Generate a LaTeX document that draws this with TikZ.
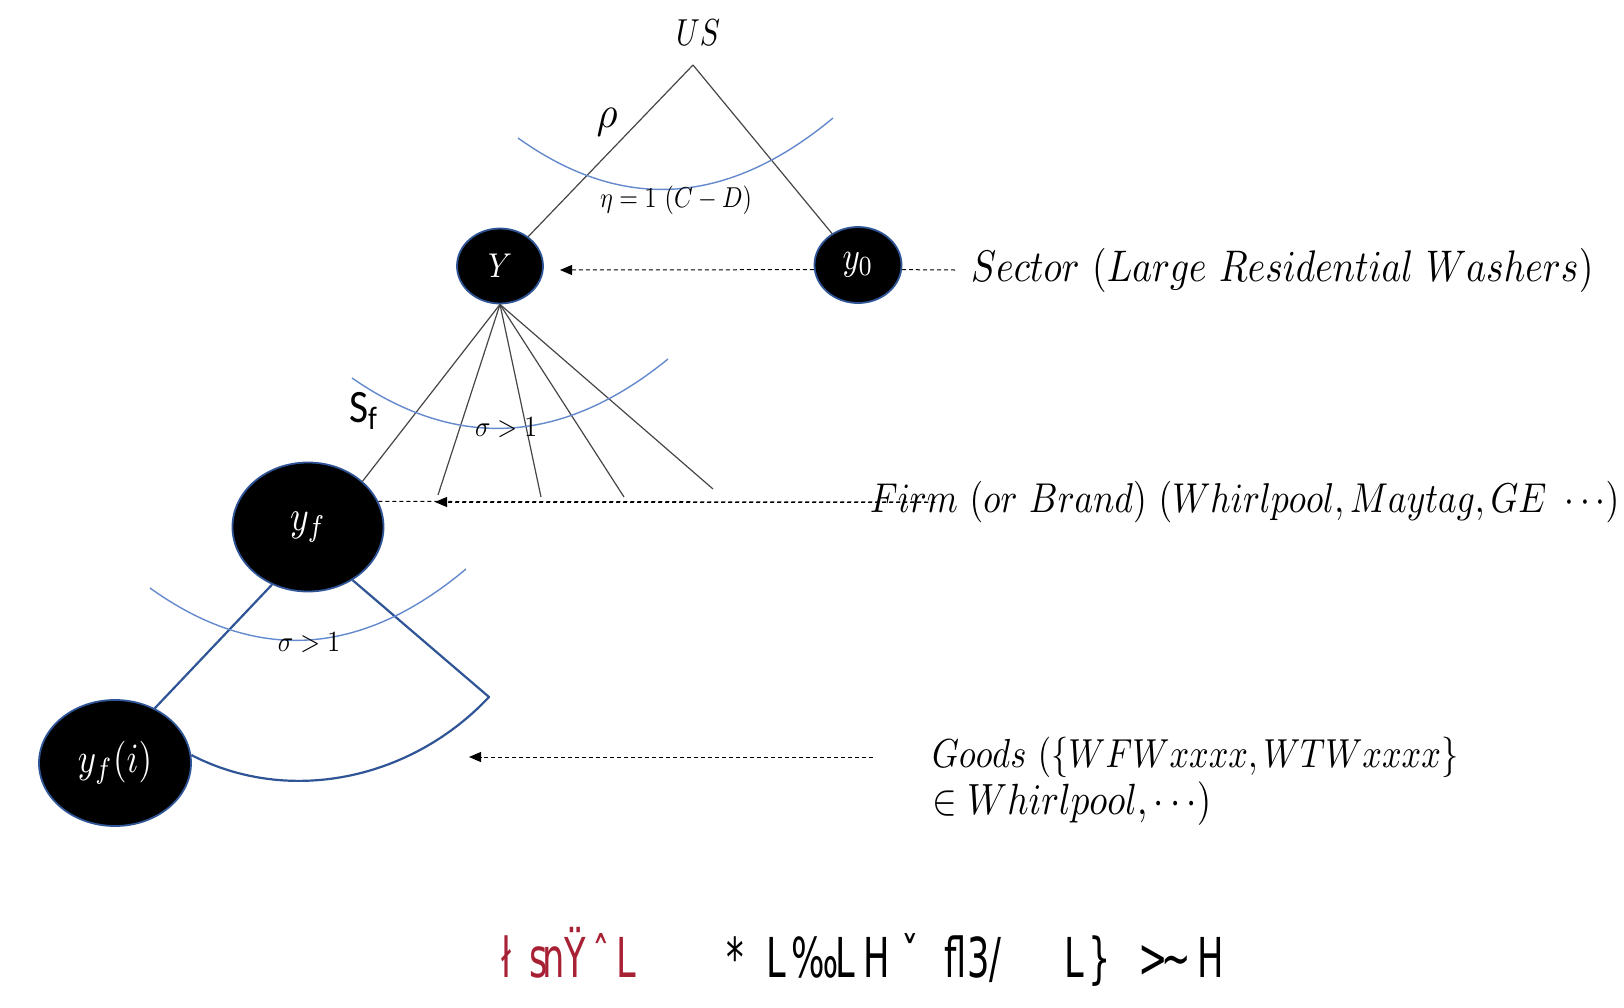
\documentclass[tikz,border=0pt]{standalone}
\usepackage{fontspec}
\usepackage{graphicx}
\usetikzlibrary{shapes.geometric,arrows.meta}
\newfontfamily\calibfont{Carlito}
\newfontfamily\capglyph{DejaVu Sans}
\definecolor{nodeedge}{RGB}{47,85,151}
\definecolor{arcblue}{RGB}{100,138,205}
\definecolor{linegray}{RGB}{70,70,70}
\definecolor{capred}{RGB}{168,32,52}
% scale a label to a given width, then stretch it upright by an optional factor
\newcommand{\fitw}[3][1.18]{\scalebox{1}[#1]{\resizebox{#2}{!}{#3}}}
% one narrow caption glyph
\newcommand{\cg}[1]{\scalebox{0.64}[1]{\fontsize{55pt}{60pt}\capglyph #1}}
\begin{document}
\begin{tikzpicture}[x=1pt, y=-1pt, line join=round,
  bubble/.style={ellipse, fill=black, draw=nodeedge, line width=1.8pt, inner sep=0pt, text=white},
  tree/.style={draw=linegray, line width=1.2pt},
  cesarc/.style={draw=arcblue, line width=1.4pt},
  sector/.style={draw=nodeedge, line width=2.2pt},
  guide/.style={draw=black, line width=1pt, dash pattern=on 4pt off 3pt},
  pointer/.style={guide, -{Triangle[length=12pt,width=10pt]}},
  lab/.style={inner sep=0pt},
  glyph/.style={inner sep=0pt, anchor=base west}]

\path[use as bounding box, fill=white] (0,0) rectangle (1624,1007);

% ---- nodes of the nesting tree
\coordinate (top) at (693,65);
\node[lab] (US) at (698,33) {\fitw[1.25]{44pt}{$US$}};
\node[bubble, minimum width=86pt, minimum height=75pt] (Y) at (500,266)
  {\fitw[1.15]{24pt}{$Y$}\hspace{12pt}};
\node[bubble, minimum width=87pt, minimum height=76pt] (y0) at (858,265)
  {\fitw[1.2]{31pt}{$y_0$}\hspace{11pt}};
\node[bubble, minimum width=151pt, minimum height=129pt] (yf) at (308,527)
  {\fitw[1.2]{36pt}{$y_f$}\hspace{9pt}};
\node[bubble, minimum width=152pt, minimum height=126pt] (yfi) at (115,763)
  {\fitw[1.2]{74pt}{$y_f(i)$}\hspace{15pt}};

% ---- upper level: US -> Y, y0
\draw[tree] (top) -- (Y);
\draw[tree] (top) -- (y0);
\node[lab] (rho) at (607,122) {\fitw[1.1]{21pt}{$\rho$}};
\draw[cesarc] (518,138) .. controls (622.3,212.7) and (727.3,206) .. (833,118);
\node[lab] (eta) at (676,200) {\fitw[1.2]{152pt}{$\eta = 1\ (C - D)$}};

% ---- middle level: Y -> firms
\coordinate (f1) at (438,495);
\coordinate (f2) at (541,497);
\coordinate (f3) at (624,497);
\coordinate (f4) at (713,489);
\draw[tree] (Y.south) -- (yf.40);
\foreach \c in {f1,f2,f3,f4} \draw[tree] (Y.south) -- (\c);
\draw[cesarc] (352,378) .. controls (457.3,451) and (562.7,444.7) .. (668,359);
\node[lab] (sig1) at (506,428) {\fitw[1.15]{62pt}{$\sigma > 1$}};
\node[lab] (Sf) at (364,411) {\fitw[1.12]{30pt}{\calibfont S\textsubscript{f}}};

% ---- lower level: y_f -> goods
\coordinate (corner) at (489,697);
\draw[sector] (yfi.54) -- (yf.238);
\draw[sector] (yf.310) -- (corner) .. controls (412,779) and (290,806) .. (yfi.6);
\draw[cesarc] (150,588) .. controls (255.3,663.7) and (360.7,657.3) .. (466,569);
\node[lab] (sig2) at (309,643) {\fitw[1.15]{62pt}{$\sigma > 1$}};

% ---- level descriptions and pointers
\coordinate (tipY) at (560,270);
\coordinate (secEnd) at (955,270);
\draw[pointer] (y0.186) -- (tipY);
\draw[guide] (y0.354) -- (secEnd);
\node[lab, anchor=west] (sectorText) at (971,270)
  {\fitw{622pt}{$Sector\ (Large\ Residential\ Washers)$}};

\coordinate (tipF) at (435,502);
\coordinate (firmEnd) at (935,502);
\draw[guide] (yf.20) -- (firmEnd);
\draw[pointer] (firmEnd) -- (tipF);
\node[lab, anchor=west] (firmText) at (870,502)
  {\fitw{749pt}{$Firm\ (or\ Brand)\ (Whirlpool, Maytag, GE\ \cdots)$}};

\coordinate (tipG) at (469,757);
\coordinate (goodsEnd) at (873,757);
\draw[pointer] (goodsEnd) -- (tipG);
\node[lab, anchor=west] (goods1) at (932,757)
  {\fitw{526pt}{$Goods\ (\{WFWxxxx, WTWxxxx\}$}};
\node[lab, anchor=west] (goods2) at (932,804)
  {\fitw{279pt}{$\in Whirlpool, \cdots)$}};

% ---- caption line
\foreach \gx/\gc [count=\k] in {501/ł, 529/s, 542/n, 564/Ÿ, 592/ˆ, 616/L}
  \node[glyph, text=capred] (red\k) at (\gx,977) {\cg{\gc}};
\foreach \gx/\gc [count=\k] in {726/*, 766/L, 791/‰, 835/L, 863/H, 901/ˇ, 944/fl, 967/3, 989/{/}, 1064/L, 1088/\}, 1138/>, 1161/\textasciitilde, 1197/H}
  \node[glyph, text=black] (blk\k) at (\gx,977) {\cg{\gc}};
\end{tikzpicture}
\end{document}
